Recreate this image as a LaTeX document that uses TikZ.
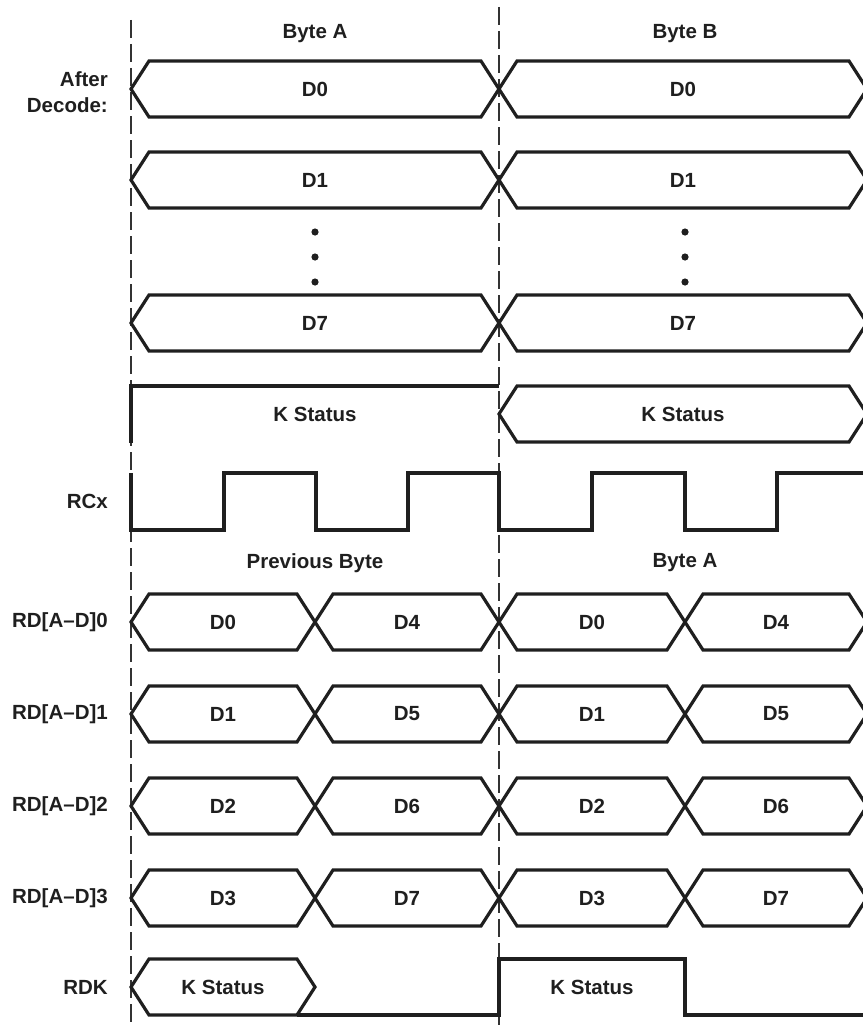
\documentclass[tikz,border=0pt]{standalone}
\usepackage{fontspec}
\setmainfont{Liberation Sans}
\begin{document}
\begin{tikzpicture}[x=1pt,y=-1pt,
  sig/.style={line width=3.2pt,line join=miter,draw=black!88},
  guide/.style={line width=1.1pt,draw=black!80,dash pattern=on 18pt off 6pt},
  lbl/.style={font=\fontsize{20.5}{24}\selectfont\bfseries,text=black!88,inner sep=0pt},
  rlbl/.style={lbl,anchor=east},
  dotmark/.style={fill=black!88}]
\useasboundingbox (0,0) rectangle (862,1025);
% bus segment: #1 x-left, #2 x-right, #3 y-center, #4 text, #5 name
\newcommand{\busseg}[5]{%
  \draw[sig] (#1,#3) -- ({#1+18},{#3-28}) -- ({#2-18},{#3-28}) -- (#2,#3)
     -- ({#2-18},{#3+28}) -- ({#1+18},{#3+28}) -- cycle;
  \node[lbl] (#5) at ({(#1+#2)/2},#3) {#4};}
% guides
\coordinate (gA1) at (131,20);  \coordinate (gA2) at (131,1025);
\coordinate (gB1) at (499,7);   \coordinate (gB2) at (499,1025);
\draw[guide] (gA1) -- (gA2);
\draw[guide] (gB1) -- (gB2);
% headings
\node[lbl] (hA) at (315,34) {Byte A};
\node[lbl] (hB) at (685,34) {Byte B};
\node[lbl] (hPrev) at (315,563) {Previous Byte};
\node[lbl] (hA2) at (685,563) {Byte A};
% row labels
\node[rlbl] (lAfter) at (108,79) {After};
\node[rlbl] (lDecode) at (108,105) {Decode:};
\node[rlbl] (lRCx) at (108,501) {RCx};
\node[rlbl] (lRD0) at (108,622) {RD[A–D]0};
\node[rlbl] (lRD1) at (108,714) {RD[A–D]1};
\node[rlbl] (lRD2) at (108,806) {RD[A–D]2};
\node[rlbl] (lRD3) at (108,898) {RD[A–D]3};
\node[rlbl] (lRDK) at (108,987) {RDK};
% After decode buses
\busseg{131}{499}{89}{D0}{a0}
\busseg{499}{867}{89}{D0}{b0}
\busseg{131}{499}{180}{D1}{a1}
\busseg{499}{867}{180}{D1}{b1}
\busseg{131}{499}{323}{D7}{a7}
\busseg{499}{867}{323}{D7}{b7}
% dots
\foreach \yy in {232,257,282}{
  \fill[dotmark] (315,\yy) circle (3.6);
  \fill[dotmark] (685,\yy) circle (3.6);}
% K status
\draw[sig] (131,443) -- (131,386) -- (499,386);
\node[lbl] (ksA) at (315,414) {K Status};
\busseg{499}{867}{414}{K Status}{ksB}
% RCx clock
\draw[sig] (131,473) -- (131,530) -- (224,530) -- (224,473) -- (316,473) -- (316,530)
  -- (408,530) -- (408,473) -- (499,473) -- (499,530) -- (592,530) -- (592,473)
  -- (685,473) -- (685,530) -- (777,530) -- (777,473) -- (870,473);
% RD buses
\busseg{131}{315}{622}{D0}{r00}
\busseg{315}{499}{622}{D4}{r04}
\busseg{499}{685}{622}{D0}{r10}
\busseg{685}{867}{622}{D4}{r14}
\busseg{131}{315}{714}{D1}{r01}
\busseg{315}{499}{714}{D5}{r05}
\busseg{499}{685}{714}{D1}{r11}
\busseg{685}{867}{714}{D5}{r15}
\busseg{131}{315}{806}{D2}{r02}
\busseg{315}{499}{806}{D6}{r06}
\busseg{499}{685}{806}{D2}{r12}
\busseg{685}{867}{806}{D6}{r16}
\busseg{131}{315}{898}{D3}{r03}
\busseg{315}{499}{898}{D7}{r07}
\busseg{499}{685}{898}{D3}{r13}
\busseg{685}{867}{898}{D7}{r17}
% RDK
\busseg{131}{315}{987}{K Status}{rdkA}
\draw[sig] (297,1015) -- (499,1015) -- (499,959) -- (685,959) -- (685,1015) -- (870,1015);
\node[lbl] (rdkB) at (592,987) {K Status};
\end{tikzpicture}
\end{document}
